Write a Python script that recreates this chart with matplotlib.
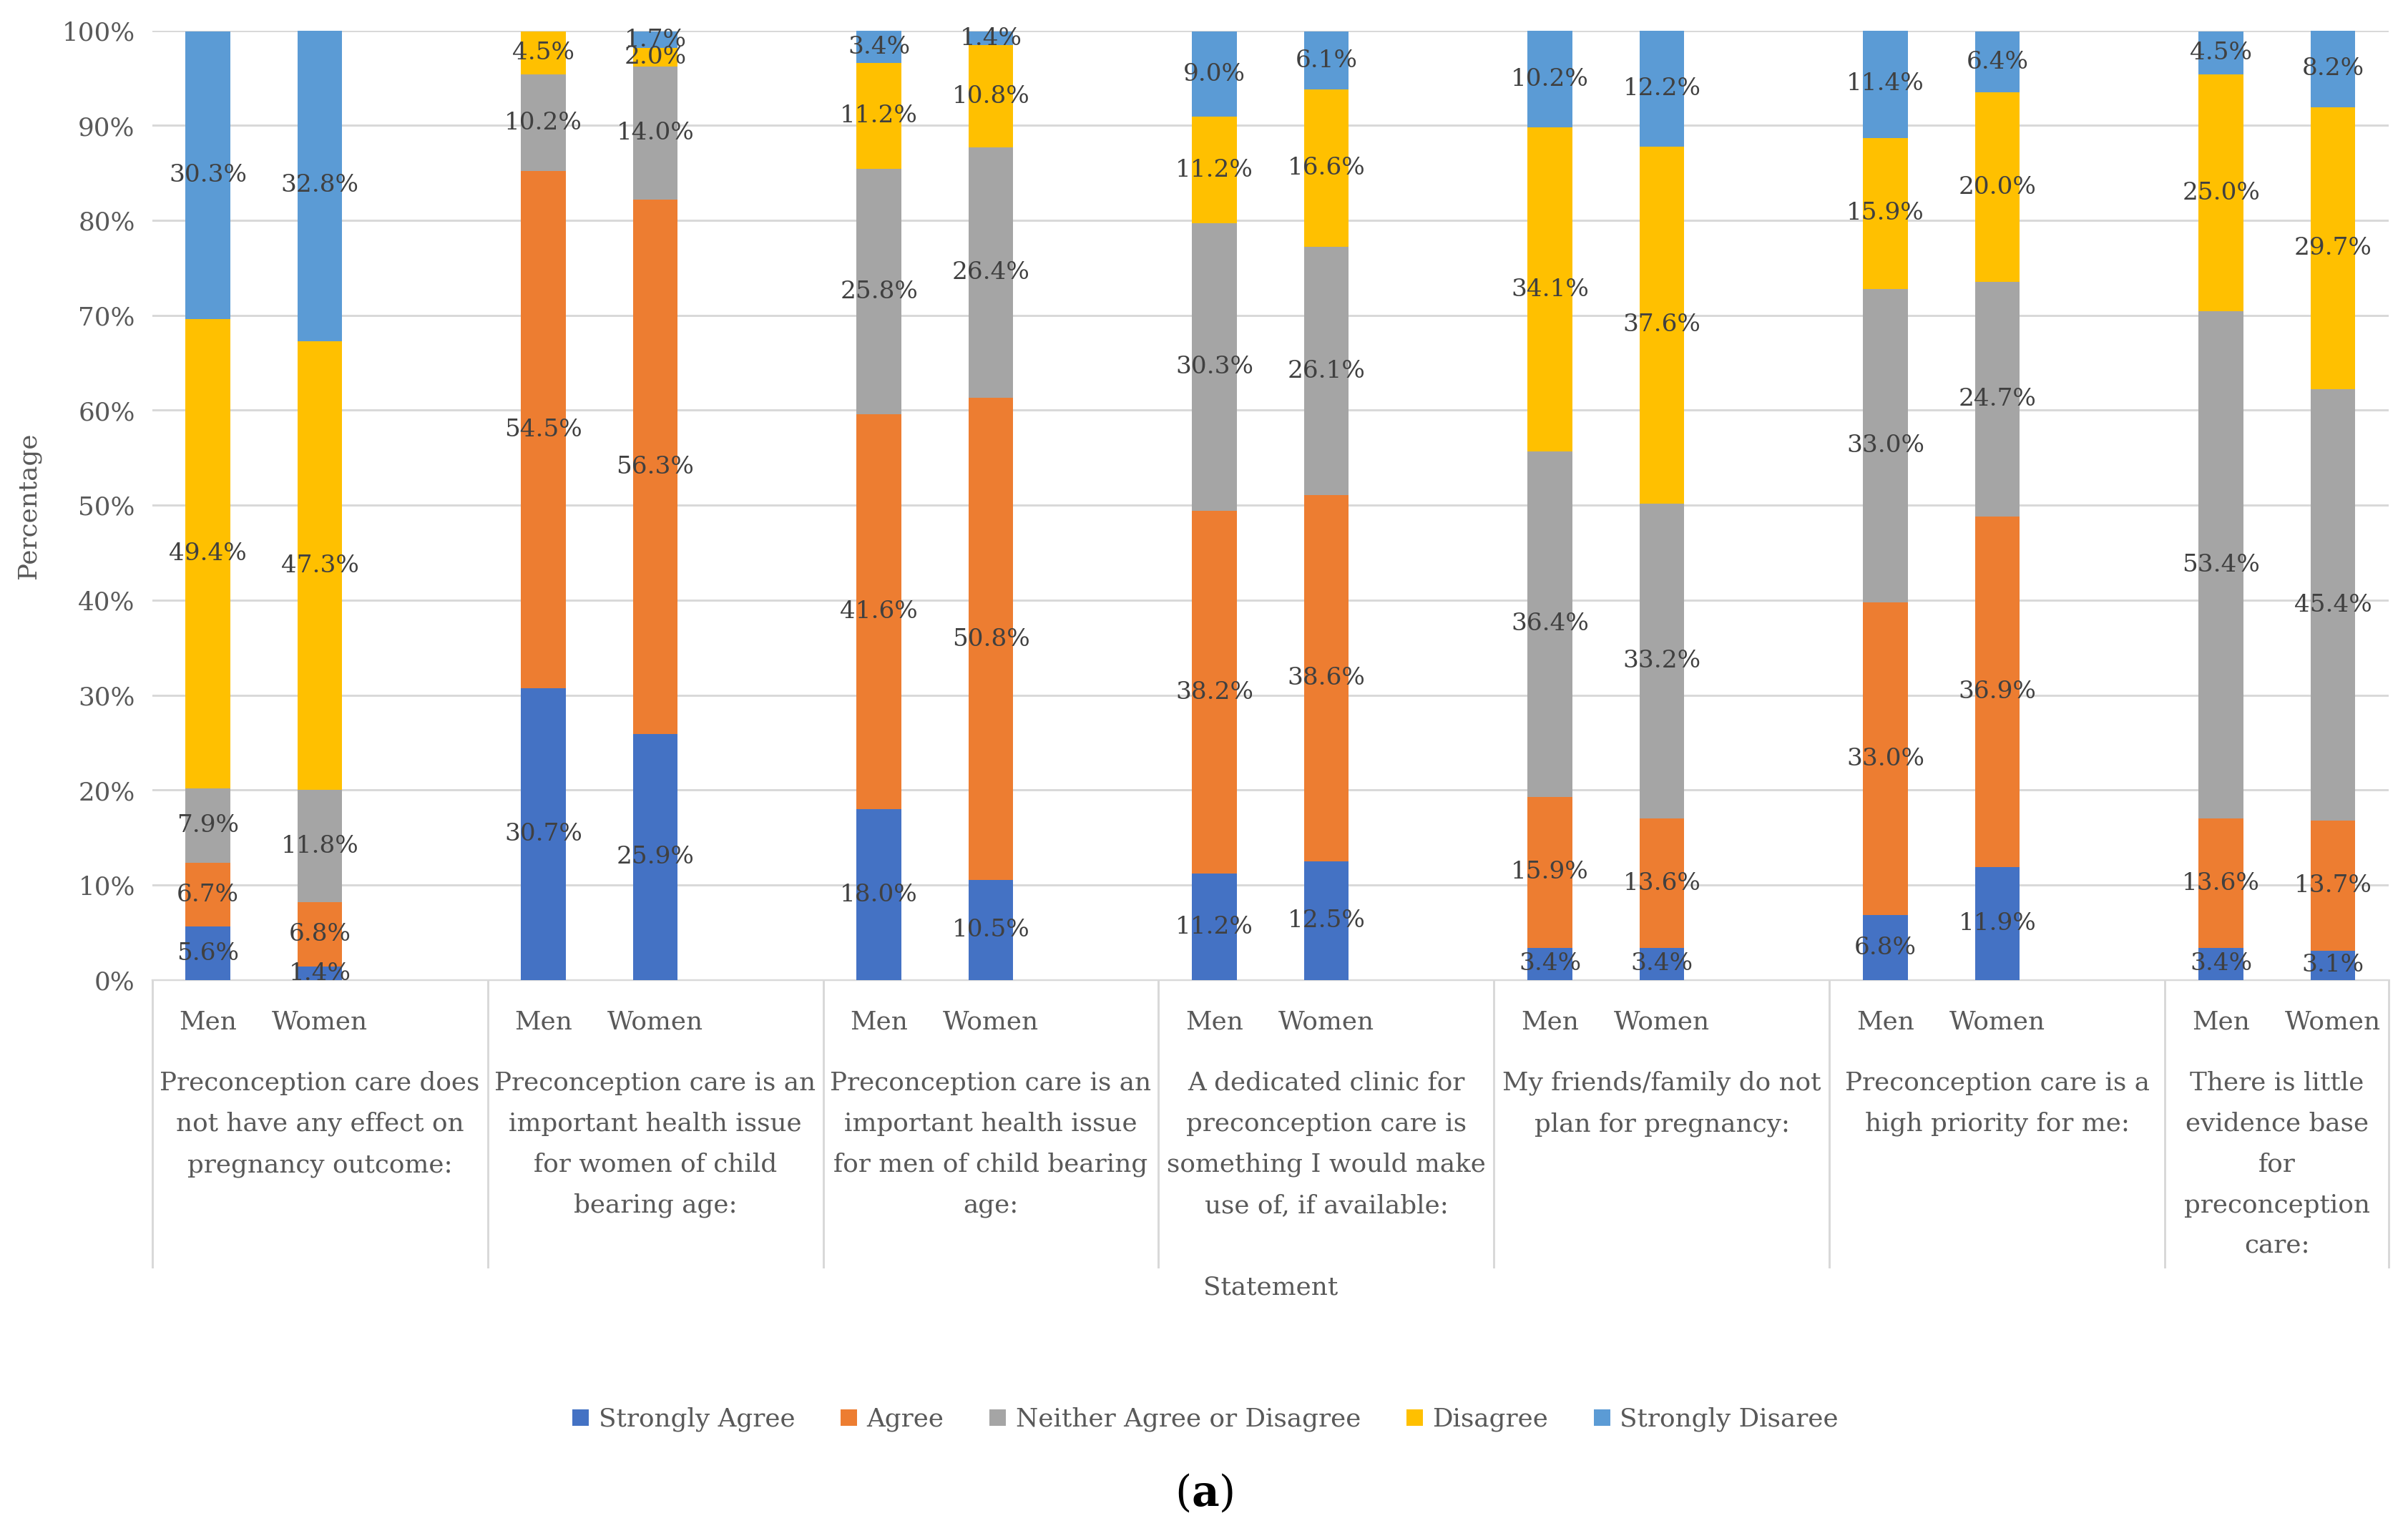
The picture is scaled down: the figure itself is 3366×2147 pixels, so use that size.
import numpy as np
import matplotlib
matplotlib.use('Agg')
import matplotlib.pyplot as plt
from matplotlib.lines import Line2D

#%% data (percent)
statements = ['Preconception care does\nnot have any effect on\npregnancy outcome:',
              'Preconception care is an\nimportant health issue\nfor women of child\nbearing age:',
              'Preconception care is an\nimportant health issue\nfor men of child bearing\nage:',
              'A dedicated clinic for\npreconception care is\nsomething I would make\nuse of, if available:',
              'My friends/family do not\nplan for pregnancy:',
              'Preconception care is a\nhigh priority for me:',
              'There is little\nevidence base\nfor\npreconception\ncare:']
groups = ['Men', 'Women']
responses = ['Strongly Agree', 'Agree', 'Neither Agree or Disagree', 'Disagree', 'Strongly Disaree']

# order of bars: statement 1 men, statement 1 women, statement 2 men, ...
strongly_agree = [5.6, 1.4, 30.7, 25.9, 18.0, 10.5, 11.2, 12.5, 3.4, 3.4, 6.8, 11.9, 3.4, 3.1]
agree          = [6.7, 6.8, 54.5, 56.3, 41.6, 50.8, 38.2, 38.6, 15.9, 13.6, 33.0, 36.9, 13.6, 13.7]
neither        = [7.9, 11.8, 10.2, 14.0, 25.8, 26.4, 30.3, 26.1, 36.4, 33.2, 33.0, 24.7, 53.4, 45.4]
disagree       = [49.4, 47.3, 4.5, 2.0, 11.2, 10.8, 11.2, 16.6, 34.1, 37.6, 15.9, 20.0, 25.0, 29.7]
strongly_dis   = [30.3, 32.8, 0.0, 1.7, 3.4, 1.4, 9.0, 6.1, 10.2, 12.2, 11.4, 6.4, 4.5, 8.2]

colors = ['#4472C4', '#ED7D31', '#A5A5A5', '#FFC000', '#5B9BD5']

#%% styling
plt.rcParams['font.family'] = 'DejaVu Serif'
plt.rcParams['mathtext.fontset'] = 'dejavuserif'
fs = 12
fs_lab = 11.5
txtc = '#404040'
axc = '#595959'
gridc = '#D9D9D9'

#%% positions: 3 slots per statement, last slot of each group empty (except last)
nst = len(statements)
xpos = []
for k in range(nst):
    xpos += [3*k, 3*k + 1]
xpos = np.array(xpos, dtype=float)

fig = plt.figure(figsize=(15.68, 10.0))
ax = fig.add_axes([99/1568, 1-638/1000, (1555-99)/1568, (638-20)/1000])

series = [strongly_agree, agree, neither, disagree, strongly_dis]
bottom = np.zeros(len(xpos))
for vals, col in zip(series, colors):
    vals = np.array(vals)
    ax.bar(xpos, vals, 0.4, bottom=bottom, color=col, zorder=3)
    for x, b, v in zip(xpos, bottom, vals):
        if v > 0:
            ax.text(x, b + v/2, '%.1f%%' % v, ha='center', va='center',
                    fontsize=fs_lab, color=txtc, zorder=4)
    bottom += vals

ax.set_xlim(-0.5, 3*nst - 1.5)
ax.set_ylim(0, 100)
ax.set_yticks(np.arange(0, 101, 10))
ax.set_yticklabels(['%d%%' % v for v in range(0, 101, 10)])
ax.yaxis.grid(True, color=gridc, lw=1.0, zorder=0)
ax.tick_params(axis='y', length=0, labelsize=fs, labelcolor=axc, pad=8)
ax.tick_params(axis='x', length=0, labelsize=fs, labelcolor=axc, pad=14)
ax.set_xticks(xpos)
ax.set_xticklabels(groups*nst)
for s in ['left', 'right', 'top']:
    ax.spines[s].set_visible(False)
ax.spines['bottom'].set_color(gridc)
ax.set_ylabel('Percentage', fontsize=fs, color=axc, labelpad=10)

#%% second level category labels and separators
tr = ax.get_xaxis_transform()
sep_bottom = -(825-638)/618
bounds = [3*k - 0.5 for k in range(nst)] + [3*nst - 1.5]
for b in bounds:
    ax.add_line(Line2D([b, b], [0, sep_bottom], transform=tr, color=gridc,
                       lw=1.0, clip_on=False))
for k in range(nst):
    cx = (bounds[k] + bounds[k+1])/2
    ax.text(cx, -(697-638)/618, statements[k], transform=tr, ha='center',
            va='top', fontsize=fs, color=axc, linespacing=1.85)

ax.text(0.5, -(838-638)/618, 'Statement', transform=ax.transAxes, ha='center',
        va='center', fontsize=fs, color=axc)

#%% legend
handles = [Line2D([], [], ls='none', marker='s', ms=7, mfc=c, mec=c) for c in colors]
fig.legend(handles, responses, loc='center', bbox_to_anchor=(0.5, 1-924/1000),
           ncol=5, frameon=False, fontsize=fs, labelcolor=axc,
           handlelength=0.8, handletextpad=0.3, columnspacing=1.7)

fig.text(0.5, 1-972/1000, r'($\mathbf{a}$)', ha='center', va='center', fontsize=20,
         color='black')

fig.savefig('out.png', dpi=214.73)
